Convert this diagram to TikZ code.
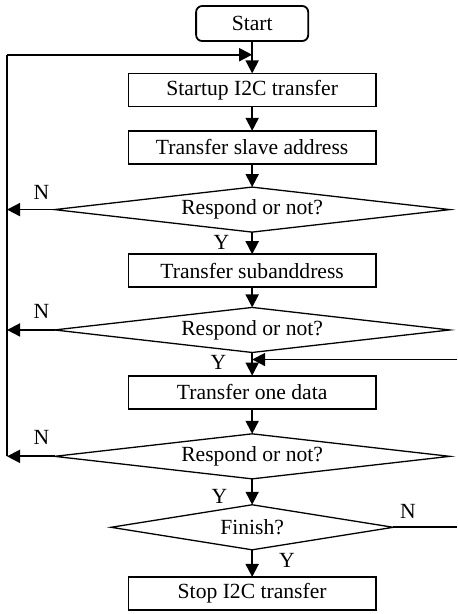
\documentclass[tikz,border=0pt]{standalone}
\usepackage{fontspec}
\setmainfont{Liberation Serif}
\usetikzlibrary{
  arrows.meta,
  shapes.geometric,
  chains,
  matrix,
  positioning,
  scopes
}

\begin{document}
\begin{tikzpicture}[
      process/.style={
         rectangle,
         minimum width=123.5pt,
         minimum height=16.5pt,
         line width=0.9pt,
         draw=black,
         inner sep=0pt
      },
      terminal/.style={
         rectangle,
         rounded corners=3pt,
         minimum width=56pt,
         minimum height=17.5pt,
         line width=0.9pt,
         draw=black,
         inner sep=0pt
      },
      decision/.style={
         diamond,
         aspect=8,
         minimum width=197.5pt,
         minimum height=22.5pt,
         line width=0.65pt,
         draw=black,
         inner sep=0pt
      },
      yn/.style={inner sep=0pt},
      point/.style={coordinate},>={Triangle[length=6.5pt,width=6.5pt]},line width=0.9pt,
      tip/.style={->,shorten >=0.007pt},
      font=\fontsize{10.8}{13}\selectfont
    ]
    \matrix[column sep={122.5pt,between origins}, row sep=10.8pt, inner sep=0pt, outer sep=0pt] {
 & \node (n12) [terminal] {Start}; \\[-4.4pt]
\node (n21) [point] {}; & \node (n22) [point] {}; \\[-1.9pt]
 & \node (n32) [process] {Startup I2C transfer}; \\[0.5pt]
 & \node (n42) [process] {Transfer slave address}; \\
\node (n51) [point] {}; & \node (n52) [decision] {Respond or not?}; \\[-0.5pt]
 & \node (n62) [process] {Transfer subanddress}; \\[-1.5pt]
\node (n71) [point] {}; & \node (n72) [decision] {Respond or not?}; \\[-7.6pt]
 & \node (n82) [point] {}; \\[-3.2pt]
 & \node (n92) [process] {Transfer one data}; \\[1pt]
\node (n101) [point] {}; & \node (n102) [decision] {Respond or not?}; \\[1.5pt]
 & \node (n112) [decision, minimum width=141pt] {Finish?}; \\[2pt]
 & \node (n122) [process] {Stop I2C transfer}; \\
    };
  % right edge, where the Finish? loop leaves the picture
  \coordinate (n83) at ([xshift=102.5pt]n82);
  \coordinate (n113) at (n83 |- n112);
  \coordinate (bbtl) at (n21 |- n12.north);
  \coordinate (bbbr) at (n83 |- n122.south);
  \useasboundingbox ([xshift=-3.5pt,yshift=3pt]bbtl) rectangle ([yshift=-2pt]bbbr);
  { [start chain]
       \chainin (n12);
       \chainin (n22)    [join];
  }
  { [start chain]
       \chainin (n22);
       \chainin (n32)    [join=by tip];
  }
  { [start chain]
       \chainin (n32);
       \chainin (n42)    [join=by tip];
  }
  { [start chain]
       \chainin (n42);
       \chainin (n52)    [join=by tip];
  }
  { [start chain]
       \chainin (n52);
       \chainin (n62)    [join=by tip];
  }
  { [start chain]
       \chainin (n62);
       \chainin (n72)    [join=by tip];
  }
  { [start chain]
       \chainin (n72);
       \chainin (n82)    [join];
  }
  { [start chain]
       \chainin (n82);
       \chainin (n92)    [join=by tip];
  }
  { [start chain]
       \chainin (n92);
       \chainin (n102)    [join=by tip];
  }
  { [start chain]
       \chainin (n102);
       \chainin (n112)    [join=by tip];
  }
  { [start chain]
       \chainin (n112);
       \chainin (n122)    [join=by tip];
  }
  % N exits to the left loop
  { [start chain]
       \chainin (n52);
       \chainin (n51)    [join=by tip];
  }
  { [start chain]
       \chainin (n72);
       \chainin (n71)    [join=by tip];
  }
  { [start chain]
       \chainin (n102);
       \chainin (n101)    [join=by tip];
       \chainin (n21)    [join];
       \chainin (n22)    [join=by tip];
  }
  % Finish? N back to one data
  { [start chain]
       \chainin (n112);
       \chainin (n113)    [join];
  }
  { [start chain]
       \chainin (n83);
       \chainin (n82)    [join=by tip];
  }
  \node (ln1) [yn, above left=4.5pt and 2.25pt of n52.west] {N};
  \node (ln2) [yn, above left=5.5pt and 2.25pt of n72.west] {N};
  \node (ln3) [yn, above left=5.5pt and 2.25pt of n102.west] {N};
  \node (ln4) [yn, above right=4pt and 3pt of n112.east] {N};
  \node (ly1) [yn, below left=1pt and 11pt of n52.south] {Y};
  \node (ly2) [yn, below left=1pt and 12.5pt of n72.south] {Y};
  \node (ly3) [yn, below left=5pt and 12pt of n102.south] {Y};
  \node (ly4) [yn, below right=1.5pt and 13pt of n112.south] {Y};
\end{tikzpicture}
\end{document}
